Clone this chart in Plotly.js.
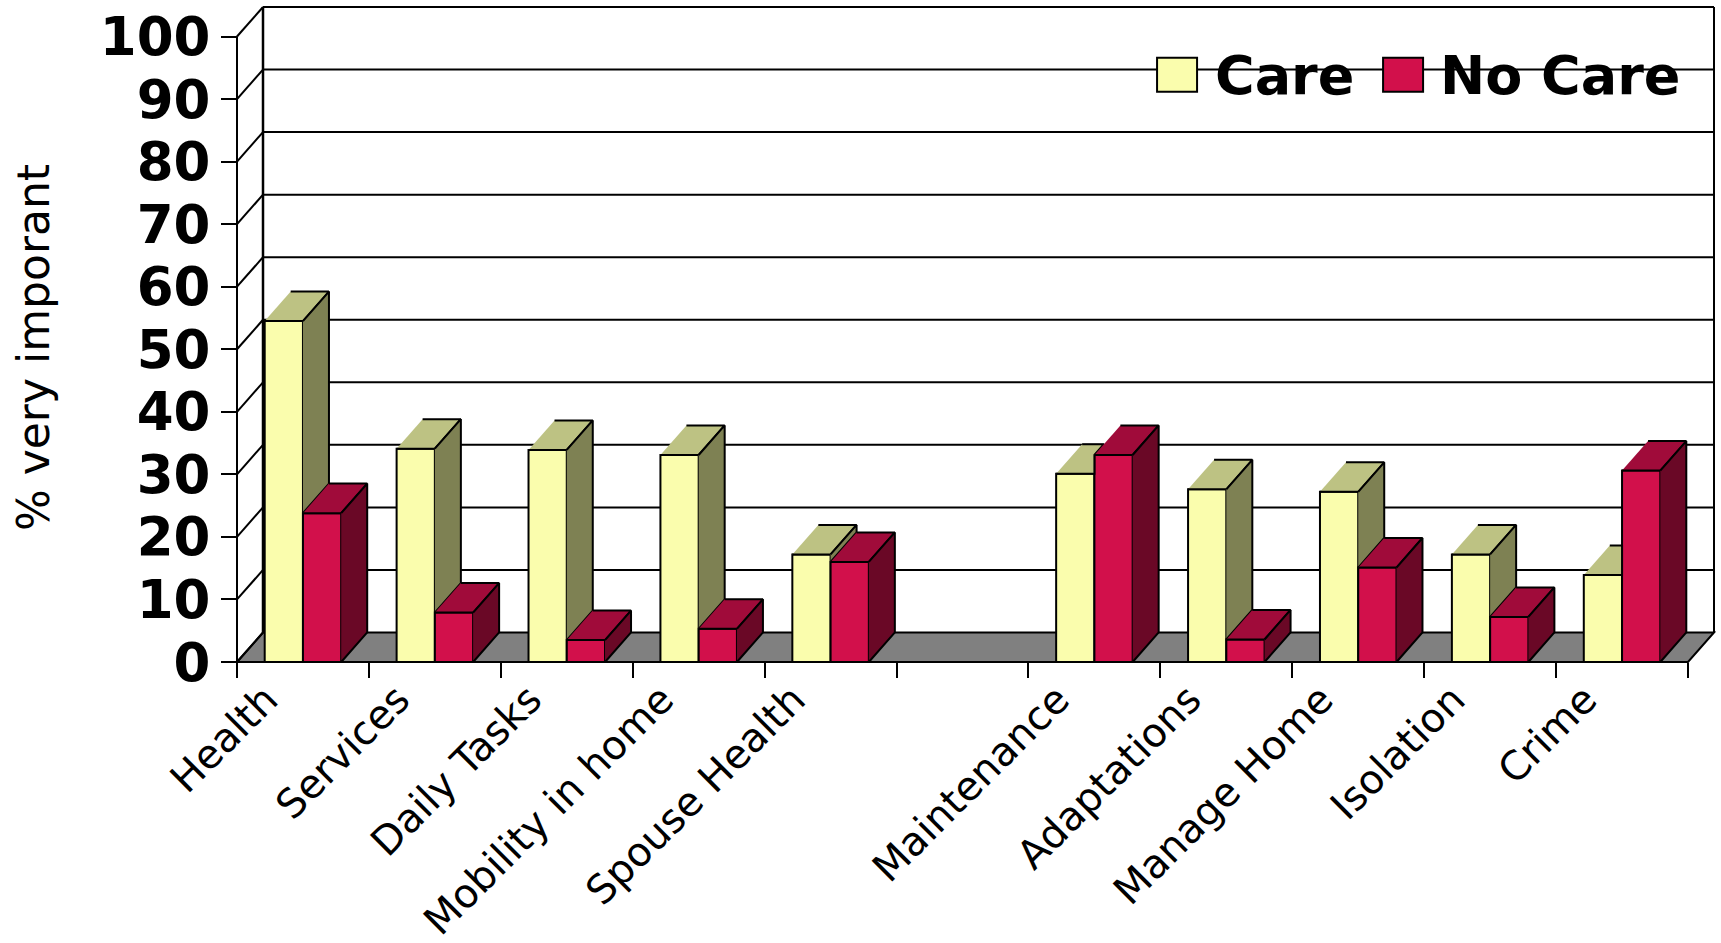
<!DOCTYPE html>
<html>
<head>
<meta charset="utf-8">
<script src="https://cdn.plot.ly/plotly-3.0.1.min.js"></script>
<style>html,body{margin:0;padding:0;background:#fff;}#chart{width:1721px;height:943px;}</style>
</head>
<body>
<div id="chart"></div>
<script>
// ---------------- data ----------------
const categories = ["Health", "Services", "Daily Tasks", "Mobility in home", "Spouse Health", "",
                    "Maintenance", "Adaptations", "Manage Home", "Isolation", "Crime"];
const careValues   = [54.5, 34.1, 33.9, 33.1, 17.2, null, 30.1, 27.6, 27.2, 17.2, 13.9];
const noCareValues = [23.8,  7.9,  3.5,  5.3, 16.0, null, 33.1,  3.6, 15.1,  7.2, 30.6];
const yTicks = [0, 10, 20, 30, 40, 50, 60, 70, 80, 90, 100];
const seriesNames = ["Care", "No Care"];
const yTitle = "% very imporant";

// ---------------- geometry / style ----------------
const W_PX = 1721, H_PX = 943;
const SLOT = 131.9, UNIT = 6.25;          // px per category, px per % point
const FRONT_LEFT_PX = 237, ZERO_PX = 661.7;
const DEPTH_X_PX = 26, DEPTH_Y_PX = 29.5;
const PAD = 3;
const DX = DEPTH_X_PX / SLOT, DY = DEPTH_Y_PX / UNIT;
const BARW = 0.29;
const LABEL_SHIFT = -0.28;
const N = categories.length;
const positions = categories.map((c, i) => i);
const yTop = yTicks[yTicks.length - 1];

const xMin = -0.5 - PAD / SLOT, xMax = N - 0.5 + DX + PAD / SLOT;
const yMin = -PAD / UNIT, yMax = yTop + DY + PAD / UNIT;
const plotW = (xMax - xMin) * SLOT, plotH = (yMax - yMin) * UNIT;
const mL = FRONT_LEFT_PX - PAD, mB = H_PX - (ZERO_PX + PAD);
const mR = W_PX - mL - plotW, mT = H_PX - mB - plotH;
const pxX = px => (px - mL) / plotW;
const pxY = py => (H_PX - mB - py) / plotH;

const COLORS = {
  careFront: "#FAFDAD", careTop: "#BDC283", careSide: "#7E8153",
  noFront: "#D2104B", noTop: "#A00B3A", noSide: "#6A0826",
  floor: "#808080", line: "#000000"
};
const FONT = "DejaVu Sans, Verdana, sans-serif";

// ---------------- traces ----------------
const traces = [];
traces.push({
  type: "bar", name: seriesNames[0], x: positions, y: careValues,
  width: BARW, offset: -BARW,
  marker: {color: COLORS.careFront, line: {color: COLORS.line, width: 2}},
  showlegend: false, hoverinfo: "skip"
});
traces.push({
  type: "bar", name: seriesNames[1], x: positions, y: noCareValues,
  width: BARW, offset: 0,
  marker: {color: COLORS.noFront, line: {color: COLORS.line, width: 2}},
  showlegend: false, hoverinfo: "skip"
});

function face(pts, color) {
  traces.push({
    type: "scatter", mode: "lines", fill: "toself", fillcolor: color,
    x: pts.map(p => p[0]), y: pts.map(p => p[1]),
    line: {color: COLORS.line, width: 2}, showlegend: false, hoverinfo: "skip"
  });
}

positions.forEach((i) => {
  const v1 = careValues[i], v2 = noCareValues[i];
  if (v1 == null || v2 == null) return;
  // care bar: x from i-BARW to i ; no-care bar: i to i+BARW
  const cL = i - BARW, cR = i;
  const h = Math.min(Math.max(v2, v1), v1 + DY);
  face([[cL, v1], [cR, v1], [cR, h], [cR + DX * (v1 + DY - h) / DY, v1 + DY], [cL + DX, v1 + DY]], COLORS.careTop);
  if (v1 > v2) {
    face([[cR, v2], [cR + DX, v2 + DY], [cR + DX, v1 + DY], [cR, v1]], COLORS.careSide);
  }
  const nL = i, nR = i + BARW;
  face([[nL, v2], [nR, v2], [nR + DX, v2 + DY], [nL + DX, v2 + DY]], COLORS.noTop);
  face([[nR, 0], [nR + DX, DY], [nR + DX, v2 + DY], [nR, v2]], COLORS.noSide);
});

// ---------------- frame shapes ----------------
const shapes = [];
const L = -0.5, R = N - 0.5;
const ln = (x0, y0, x1, y1, w) => ({type: "line", xref: "x", yref: "y", x0, y0, x1, y1,
  layer: "below", line: {color: COLORS.line, width: w || 2}});
// floor
shapes.push({type: "path", xref: "x", yref: "y", layer: "below",
  path: `M${L},0 L${R},0 L${R + DX},${DY} L${L + DX},${DY} Z`,
  fillcolor: COLORS.floor, line: {color: COLORS.line, width: 2}});
// back wall gridlines + side wall diagonals
yTicks.forEach(v => {
  if (v > 0) shapes.push(ln(L + DX, v + DY, R + DX, v + DY, 2));
  shapes.push(ln(L, v, L + DX, v + DY, 2));
});
shapes.push(ln(L, 0, L, yTop, 2));
shapes.push(ln(L + DX, DY, L + DX, yTop + DY, 2.5));
shapes.push(ln(R + DX, DY, R + DX, yTop + DY, 2));

// legend (drawn by hand so that swatches match the original size)
const legendBox = {x0: 1138, x1: 1702, y0: 22, y1: 118};
shapes.push({type: "rect", xref: "paper", yref: "paper", layer: "below",
  x0: pxX(legendBox.x0), x1: pxX(legendBox.x1), y0: pxY(legendBox.y1), y1: pxY(legendBox.y0),
  fillcolor: "#FFFFFF", line: {width: 0}});
const legendItems = [
  {name: seriesNames[0], color: COLORS.careFront, sx: 1157, tx: 1213},
  {name: seriesNames[1], color: COLORS.noFront, sx: 1383, tx: 1438}
];
const annotations = [];
legendItems.forEach(it => {
  shapes.push({type: "rect", xref: "paper", yref: "paper", layer: "above",
    x0: pxX(it.sx), x1: pxX(it.sx + 40), y0: pxY(92), y1: pxY(58),
    fillcolor: it.color, line: {color: COLORS.line, width: 2}});
  annotations.push({xref: "paper", yref: "paper", x: pxX(it.tx), y: pxY(76),
    xanchor: "left", yanchor: "middle", showarrow: false, text: it.name,
    font: {family: FONT, size: 54, weight: "bold", color: "#000"}});
});
// y-axis title
annotations.push({xref: "paper", yref: "paper", x: pxX(33), y: pxY(347),
  xanchor: "center", yanchor: "middle", showarrow: false, textangle: -90, text: yTitle,
  font: {family: FONT, size: 44, color: "#000"}});

const layout = {
  width: W_PX, height: H_PX,
  margin: {l: mL, r: mR, t: mT, b: mB, pad: 0, autoexpand: false},
  paper_bgcolor: "#FFFFFF", plot_bgcolor: "rgba(0,0,0,0)",
  font: {family: FONT, color: "#000"},
  barmode: "overlay", hovermode: false, showlegend: false,
  xaxis: {
    range: [xMin, xMax], anchor: "free", position: pxY(ZERO_PX),
    showgrid: false, zeroline: false, showline: false,
    tickmode: "array", tickvals: positions.map(p => p + LABEL_SHIFT), ticktext: categories,
    ticks: "", tickangle: -45, ticklabelstandoff: 5,
    tickfont: {family: FONT, size: 40, color: "#000"},
    minor: {tickmode: "array", tickvals: positions.concat([N]).map(p => p - 0.5),
            ticks: "outside", ticklen: 15, tickwidth: 2, tickcolor: "#000", showgrid: false}
  },
  yaxis: {
    range: [yMin, yMax], anchor: "free", position: pxX(FRONT_LEFT_PX),
    showgrid: false, zeroline: false, showline: false,
    tickmode: "array", tickvals: yTicks, ticktext: yTicks.map(String),
    ticks: "outside", ticklen: 16, tickwidth: 2, tickcolor: "#000",
    tickfont: {family: FONT, size: 53, weight: "bold", color: "#000"}
  },
  shapes: shapes,
  annotations: annotations
};

Plotly.newPlot("chart", traces, layout, {displayModeBar: false, staticPlot: true});
</script>
</body>
</html>
